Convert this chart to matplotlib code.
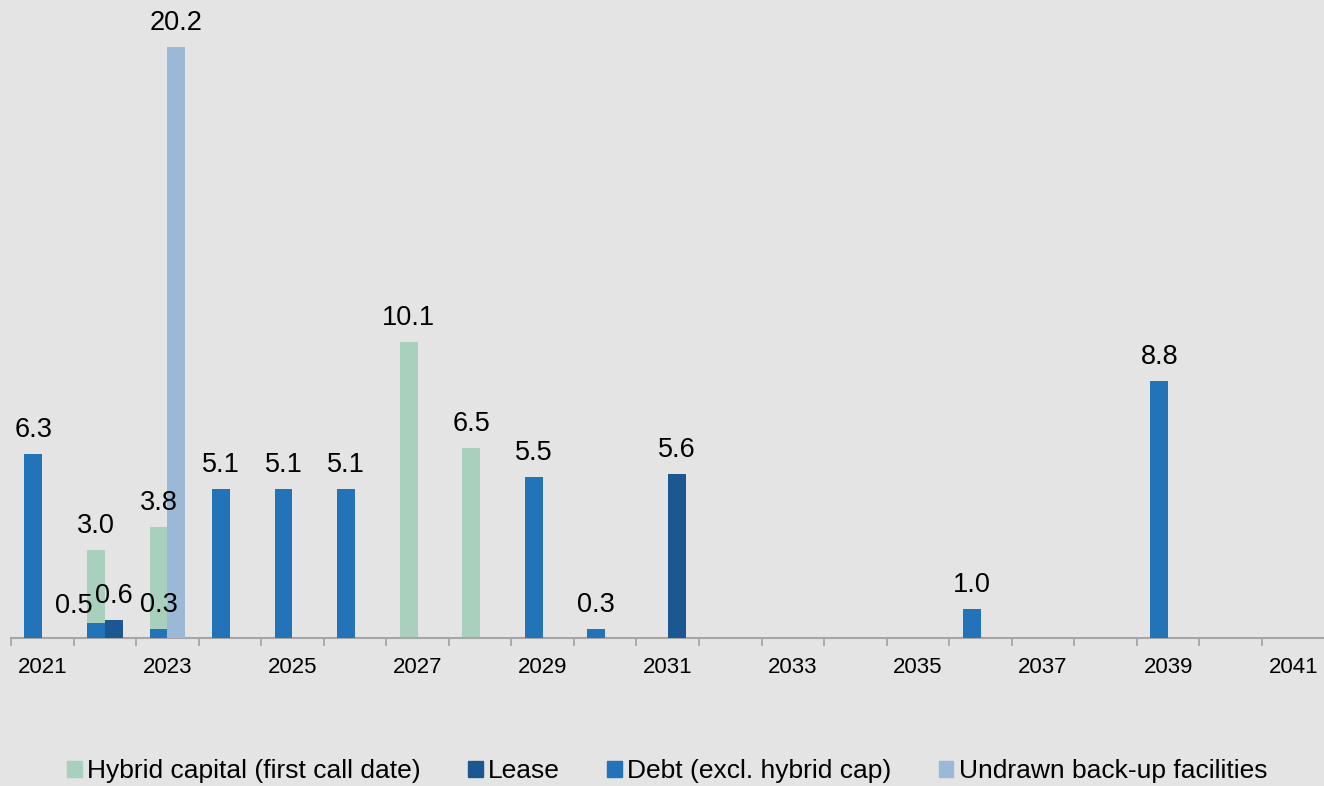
import numpy as np
import matplotlib.pyplot as plt
from matplotlib.patches import Patch

plt.rcParams['font.family'] = ['Liberation Sans', 'DejaVu Sans']

# categories
years = list(range(2021, 2042))

# series (year, value)
hybrid_years = [2022, 2023, 2027, 2028]
hybrid_vals = [3.0, 3.8, 10.1, 6.5]

lease_years = [2022, 2031]
lease_vals = [0.6, 5.6]

debt_years = [2021, 2022, 2023, 2024, 2025, 2026, 2029, 2030, 2036, 2039]
debt_vals = [6.3, 0.5, 0.3, 5.1, 5.1, 5.1, 5.5, 0.3, 1.0, 8.8]

undrawn_years = [2023]
undrawn_vals = [20.2]

c_hybrid = '#a9d0bc'
c_lease = '#1b5790'
c_debt = '#2373b9'
c_undrawn = '#9bb9d6'
bg = '#e4e4e4'

fig = plt.figure(figsize=(13.24, 7.86), dpi=100, facecolor=bg)
ax = fig.add_axes([11 / 1324, 148 / 786, 21 * 62.55 / 1324, 638 / 786])
ax.set_facecolor(bg)

w = 0.285


def pos(yrs):
    return np.array([years.index(y) for y in yrs], dtype=float)


# left slot: hybrid behind debt, right slot: lease / undrawn
ax.bar(pos(hybrid_years), hybrid_vals, width=-w, align='edge', color=c_hybrid, zorder=2)
ax.bar(pos(debt_years), debt_vals, width=-w, align='edge', color=c_debt, zorder=3)
ax.bar(pos(lease_years), lease_vals, width=w, align='edge', color=c_lease, zorder=3)
ax.bar(pos(undrawn_years), undrawn_vals, width=w, align='edge', color=c_undrawn, zorder=3)

px = 0.72  # points per pixel at 100 dpi


def put_labels(yrs, vals, side, shifts=None):
    shifts = shifts or {}
    for yr, v in zip(yrs, vals):
        x = years.index(yr) + side * w / 2
        dx, dy = shifts.get(yr, (0, 17))
        ax.annotate(f'{v:.1f}', (x, v), xytext=(dx * px, dy * px),
                    textcoords='offset points', ha='center', va='baseline',
                    fontsize=19.5, color='black', zorder=5)


put_labels(hybrid_years, hybrid_vals, -1)
# the 0.5 label sits off to the left in the original
put_labels(debt_years, debt_vals, -1, shifts={2022: (-22, 10)})
put_labels(lease_years, lease_vals, 1)
put_labels(undrawn_years, undrawn_vals, 1)

ax.set_xlim(-0.5, len(years) - 0.5)
ax.set_ylim(0, 638 / 29.26)

# labels every other year at centres, tick marks at boundaries
ax.set_xticks(np.arange(0, len(years), 2))
ax.set_xticklabels([str(y) for y in years[::2]], fontsize=16)
ax.set_xticks(np.arange(-0.5, len(years), 1), minor=True)
ax.tick_params(axis='x', which='major', length=0, pad=13.5)
ax.tick_params(axis='x', which='minor', length=6, width=1.3, color='#a6a6a6')
ax.set_yticks([])

for s in ['top', 'right', 'left']:
    ax.spines[s].set_visible(False)
ax.spines['bottom'].set_color('#a6a6a6')
ax.spines['bottom'].set_linewidth(1.5)

handles = [Patch(color=c_hybrid, label='Hybrid capital (first call date)'),
           Patch(color=c_lease, label='Lease'),
           Patch(color=c_debt, label='Debt (excl. hybrid cap)'),
           Patch(color=c_undrawn, label='Undrawn back-up facilities')]
fig.legend(handles=handles, loc='center', bbox_to_anchor=(0.504, 0.019), ncol=4,
           frameon=False, fontsize=19, handlelength=0.55, handleheight=0.55,
           handletextpad=0.2, columnspacing=1.8, borderaxespad=0)

fig.savefig('out.png', dpi=100, facecolor=bg)
